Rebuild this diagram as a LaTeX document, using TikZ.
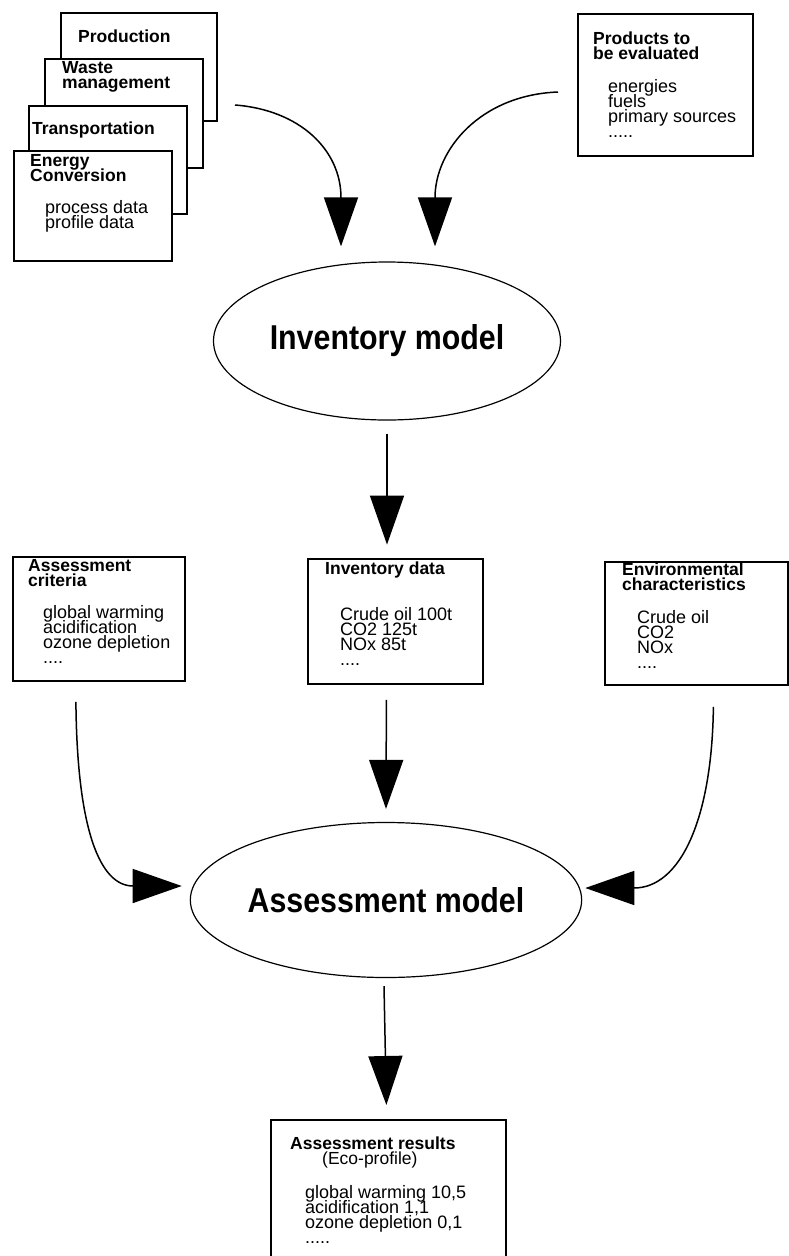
\documentclass[tikz,border=0pt]{standalone}
\usepackage{fontspec}
\setmainfont{Liberation Sans}
\newfontfamily\modelfont[FakeStretch=0.88]{Liberation Sans}
\usetikzlibrary{shapes.geometric}
\usetikzlibrary{arrows.meta}

\newcommand\tightlines{\lineskiplimit=-20pt\relax}

\tikzset{
    box/.style={draw, line width=1.8pt, fill=white, anchor=north west, inner sep=0pt},
    title/.style={anchor=north west, inner sep=0pt, align=left,
        font=\fontsize{17.5}{15}\selectfont\bfseries\tightlines},
    body/.style={anchor=north west, inner sep=0pt, align=left,
        font=\fontsize{18}{15}\selectfont\tightlines},
    model/.style={draw, ellipse, line width=1.2pt, inner sep=0pt,
        font=\modelfont\fontsize{34.5}{40}\selectfont\bfseries},
    flow/.style={line width=1.5pt, -{Triangle[width=34pt,length=49pt]}},
}

\begin{document}
\begin{tikzpicture}[x=1pt, y=-1pt]
    \useasboundingbox (0,0) rectangle (789,1256);

    % stack of data boxes
    \node[box, minimum width=156pt, minimum height=108pt] (prod) at (60,12) {};
    \node[title] (prodtxt) at (78,30) {Production};
    \node[box, minimum width=158pt, minimum height=109pt] (waste) at (44,58) {};
    \node[title] (wastetxt) at (62,61) {Waste\\management};
    \node[box, minimum width=158pt, minimum height=108pt] (trans) at (28,105) {};
    \node[title] (transtxt) at (32,122) {Transportation};
    \node[box, minimum width=158pt, minimum height=110pt] (energy) at (13,150) {};
    \node[title] (energytxt) at (30,154) {Energy\\Conversion};
    \node[body] (energydat) at (45,200) {process data\\profile data};

    \node[box, minimum width=175pt, minimum height=142pt] (products) at (577,13) {};
    \node[title] (productstxt) at (593,32) {Products to\\be evaluated};
    \node[body] (productslist) at (608,79) {energies\\fuels\\primary sources\\.....};

    \node[model, minimum width=347pt, minimum height=158pt] (inv) at (387,341) {Inventory model};

    \coordinate (stackout) at (235,105);
    \coordinate (productsout) at (558,92);
    \draw[flow] (stackout) .. controls (300,110) and (341,150) .. ([xshift=-46pt,yshift=15pt]inv.north);
    \draw[flow] (productsout) .. controls (480,95) and (435,150) .. ([xshift=48pt,yshift=15pt]inv.north);

    % middle row
    \node[box, minimum width=172pt, minimum height=124pt] (crit) at (12,556) {};
    \node[title] (crittxt) at (28,559) {Assessment\\criteria};
    \node[body] (critlist) at (43,605) {global warming\\acidification\\ozone depletion\\....};

    \node[box, minimum width=175pt, minimum height=125pt] (invd) at (307,558) {};
    \node[title] (invdtxt) at (325,562) {Inventory data};
    \node[body] (invdlist) at (340,607) {Crude oil 100t\\CO2 125t\\NOx 85t\\....};

    \node[box, minimum width=183pt, minimum height=123pt] (env) at (604,561) {};
    \node[title] (envtxt) at (622,563) {Environmental\\characteristics};
    \node[body] (envlist) at (637,610) {Crude oil\\CO2\\NOx\\....};

    \draw[flow] ([yshift=-13pt]inv.south) -- ++(0,111);

    \node[model, minimum width=344pt, minimum height=155pt] (assess) at (386,900) {Assessment model};

    \draw[flow] ([xshift=-23pt,yshift=-20pt]crit.south) .. controls (77,830) and (100,886) .. ([xshift=-8pt,yshift=14pt]assess.west);
    \draw[flow] ([xshift=-9pt,yshift=-15pt]invd.south) -- ([yshift=13pt]assess.north);
    \draw[flow] ([xshift=17pt,yshift=-21pt]env.south) .. controls (712,820) and (680,888) .. ([xshift=3pt,yshift=12pt]assess.east);

    % result
    \node[box, minimum width=235pt, minimum height=150pt] (res) at (270,1119) {};
    \node[title] (restxt) at (290,1137) {Assessment results\\\hspace*{32pt}\mdseries(Eco-profile)};
    \node[body] (reslist) at (305,1185) {global warming 10,5\\acidification 1,1\\ozone depletion 0,1\\.....};

    \draw[flow] ([xshift=-2pt,yshift=-8pt]assess.south) -- ([xshift=-2pt,yshift=14pt]res.north);
\end{tikzpicture}
\end{document}
